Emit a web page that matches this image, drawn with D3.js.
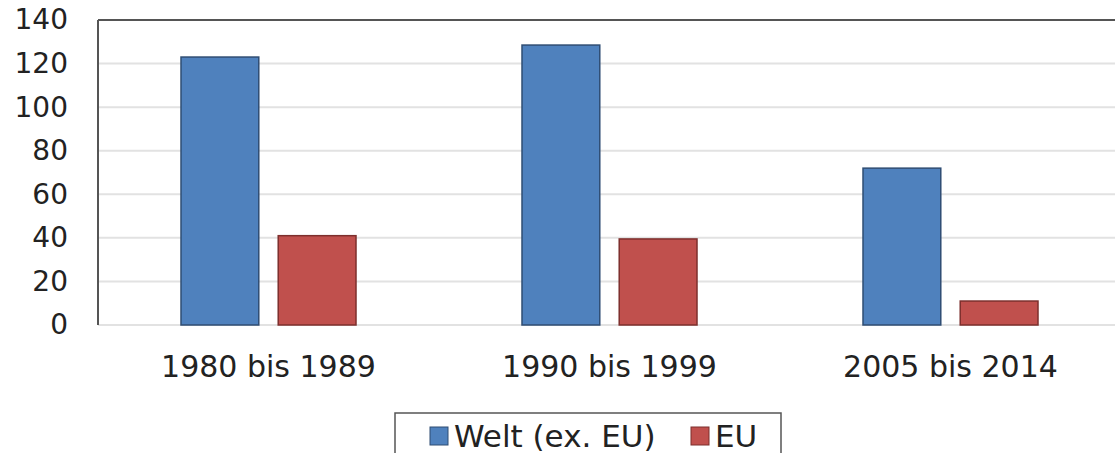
<!DOCTYPE html>
<html>
<head>
<meta charset="utf-8">
<script src="https://cdn.jsdelivr.net/npm/d3@7"></script>
<style>
  body { margin: 0; background: #fff; }
  svg { display: block; font-family: "DejaVu Sans", Verdana, sans-serif; }
</style>
</head>
<body>
<div id="chart"></div>
<script>
// Chart data
const categories = ['1980 bis 1989', '1990 bis 1999', '2005 bis 2014'];
const seriesNames = ['Welt (ex. EU)', 'EU'];
const weltValues = [123, 128.5, 72];
const euValues = [41, 39.5, 11];
const yTicks = [0, 20, 40, 60, 80, 100, 120, 140];

const colors = ['#4f81bd', '#c0504d'];
const strokes = ['#2f4d73', '#7d2f2d'];

const width = 1115;
const height = 453;
const margin = { top: 20, right: -6, bottom: 128, left: 98 };
const innerW = width - margin.left - margin.right;
const innerH = height - margin.top - margin.bottom;

const svg = d3.select('#chart')
  .append('svg')
  .attr('width', width)
  .attr('height', height);

const g = svg.append('g')
  .attr('transform', `translate(${margin.left},${margin.top})`);

// Scales
const xScale = d3.scaleBand()
  .domain(categories)
  .range([0, innerW])
  .paddingInner(0)
  .paddingOuter(0);

const xInner = d3.scaleBand()
  .domain(seriesNames)
  .range([83, xScale.bandwidth() - 83])
  .paddingInner(0.2);

const yScale = d3.scaleLinear()
  .domain([0, 140])
  .range([innerH, 0]);

// Gridlines
g.selectAll('.grid')
  .data(yTicks)
  .enter()
  .append('line')
  .attr('x1', 0)
  .attr('x2', innerW)
  .attr('y1', d => yScale(d))
  .attr('y2', d => yScale(d))
  .attr('stroke', '#e2e2e2')
  .attr('stroke-width', 2);

// Frame (top and left)
g.append('line')
  .attr('x1', 0).attr('x2', innerW)
  .attr('y1', 0).attr('y2', 0)
  .attr('stroke', '#555').attr('stroke-width', 2);
g.append('line')
  .attr('x1', 0).attr('x2', 0)
  .attr('y1', 0).attr('y2', innerH)
  .attr('stroke', '#555').attr('stroke-width', 2);

// Y axis labels
const yAxis = d3.axisLeft(yScale).tickValues(yTicks).tickSize(0).tickPadding(30);
g.append('g')
  .call(yAxis)
  .call(s => s.select('.domain').remove())
  .selectAll('text')
  .style('font-size', '28px')
  .style('font-family', '"DejaVu Sans", Verdana, sans-serif')
  .attr('fill', '#222');

// X axis labels
const xAxis = d3.axisBottom(xScale).tickSize(0).tickPadding(31);
g.append('g')
  .attr('transform', `translate(0,${innerH})`)
  .call(xAxis)
  .call(s => s.select('.domain').remove())
  .selectAll('text')
  .style('font-size', '30px')
  .style('font-family', '"DejaVu Sans", Verdana, sans-serif')
  .attr('fill', '#222');

// Bars
const rows = categories.map((c, i) => ({ cat: c, values: [weltValues[i], euValues[i]] }));
const groups = g.selectAll('.group')
  .data(rows)
  .enter()
  .append('g')
  .attr('transform', d => `translate(${xScale(d.cat)},0)`);

groups.selectAll('rect')
  .data(d => d.values.map((v, j) => ({ name: seriesNames[j], value: v, j })))
  .enter()
  .append('rect')
  .attr('x', d => xInner(d.name))
  .attr('y', d => yScale(d.value))
  .attr('width', xInner.bandwidth())
  .attr('height', d => innerH - yScale(d.value))
  .attr('fill', d => colors[d.j])
  .attr('stroke', d => strokes[d.j])
  .attr('stroke-width', 1.5);

// Legend
const legend = svg.append('g').attr('transform', 'translate(395,413)');
legend.append('rect')
  .attr('width', 386)
  .attr('height', 50)
  .attr('fill', '#fff')
  .attr('stroke', '#555')
  .attr('stroke-width', 1.5);

const legendX = [35, 296];
seriesNames.forEach((name, i) => {
  legend.append('rect')
    .attr('x', legendX[i])
    .attr('y', 14)
    .attr('width', 18)
    .attr('height', 18)
    .attr('fill', colors[i])
    .attr('stroke', strokes[i])
    .attr('stroke-width', 1);
  legend.append('text')
    .attr('x', legendX[i] + 24)
    .attr('y', 34)
    .style('font-size', '31px')
    .attr('fill', '#222')
    .text(name);
});
</script>
</body>
</html>
